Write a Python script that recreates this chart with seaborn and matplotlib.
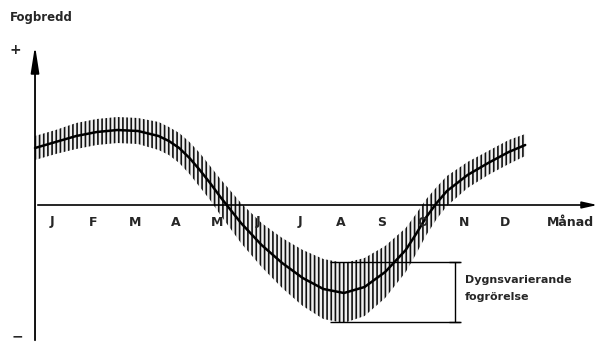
import numpy as np
import pandas as pd
import seaborn as sns
from matplotlib import pyplot as plt

# month position (0 = start of January) and fog width
month_pos = [0, 0.5, 1, 1.5, 2, 2.5, 3, 3.25, 3.5, 3.75, 4, 4.25, 4.5, 4.75, 5,
             5.5, 6, 6.5, 7, 7.5, 8, 8.5, 9, 9.25, 9.5, 9.75, 10, 10.5, 11,
             11.5, 11.9]
mean_width = [57, 63, 69, 73, 75, 74, 69, 64, 57, 47, 35, 22, 8, -5, -18,
              -40, -58, -73, -84, -88, -82, -67, -45, -29, -12, 2, 14, 30, 42,
              53, 60]
daily_var = [12, 12, 13, 13, 13, 13, 14, 14, 15, 16, 17, 17, 18, 19, 20,
             22, 25, 28, 30, 30, 29, 26, 22, 20, 18, 16, 15, 13, 12,
             12, 11]
month_labels = ['J', 'F', 'M', 'A', 'M', 'J', 'J', 'A', 'S', 'O', 'N', 'D']

df = pd.DataFrame({'month': month_pos, 'width': mean_width, 'var': daily_var})
lower = df['width'] - df['var']
upper = df['width'] + df['var']

sns.set_style('white')
plt.rcParams['font.family'] = ['DejaVu Sans']
plt.rcParams['hatch.linewidth'] = 1.2

fig = plt.figure(figsize=(6.01, 3.45), dpi=100)
ax = fig.add_axes([0, 0, 1, 1])
ax.set_xlim(-0.85, 13.74)
ax.set_ylim(-140, 205)
ax.axis('off')

# daily variation band (vertical hatching)
ax.fill_between(df['month'], lower, upper, facecolor='#f0f0f0', edgecolor='#111111',
                hatch='||||', linewidth=0)
sns.lineplot(data=df, x='month', y='width', ax=ax, color='black', linewidth=1.8)

# axes with arrows
ax.annotate('', xy=(0, 162), xytext=(0, -138),
            arrowprops=dict(arrowstyle='-|>,head_length=1.6,head_width=0.25',
                            color='black', lw=1.3))
ax.annotate('', xy=(13.72, 0), xytext=(0, 0),
            arrowprops=dict(arrowstyle='-|>,head_length=0.9,head_width=0.2',
                            color='black', lw=1.2))

for i, lab in enumerate(month_labels):
    ax.text(i + 0.42, -17, lab, ha='center', va='center', fontsize=9,
            fontweight='bold')
ax.text(13.0, -17, 'Månad', ha='center', va='center', fontsize=9,
        fontweight='bold')
ax.text(-0.6, 187, 'Fogbredd', ha='left', va='center', fontsize=8.5,
        fontweight='bold')
ax.text(-0.48, 155, '+', ha='center', va='center', fontsize=10, fontweight='bold')
ax.text(-0.42, -131, '−', ha='center', va='center', fontsize=10, fontweight='bold')

# daily variation annotation
ax.hlines([-57, -117], 7.16, 10.32, color='black', lw=1)
ax.vlines(10.19, -117, -57, color='black', lw=1)
ax.plot([10.19, 10.19], [-57, -117], marker='_', markersize=8, color='black',
        linestyle='none')
ax.text(10.44, -75, 'Dygnsvarierande', ha='left', va='center', fontsize=8,
        fontweight='bold')
ax.text(10.44, -92, 'fogrörelse', ha='left', va='center', fontsize=8,
        fontweight='bold')

fig.savefig('out.png', dpi=100)
